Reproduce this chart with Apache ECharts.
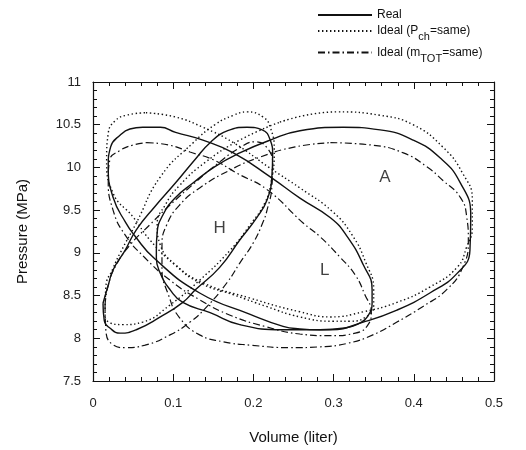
<!DOCTYPE html>
<html><head><meta charset="utf-8">
<script src="https://cdn.jsdelivr.net/npm/echarts@6/dist/echarts.min.js"></script>
<style>html,body{margin:0;padding:0;background:#fff}#c{width:526px;height:450px}</style>
</head><body><div id="c"></div>
<script>
// Values: [volume (liter), pressure (MPa)]
const realA = [[0.079,9.03],[0.080,9.24],[0.087,9.44],[0.102,9.64],[0.125,9.82],[0.152,10.01],[0.183,10.17],[0.221,10.32],[0.258,10.43],[0.312,10.47],[0.358,10.44],[0.399,10.32],[0.433,10.11],[0.458,9.82],[0.471,9.44],[0.470,9.03],[0.454,8.76],[0.420,8.53],[0.379,8.33],[0.337,8.19],[0.296,8.10],[0.237,8.10],[0.183,8.16],[0.146,8.30],[0.112,8.42],[0.096,8.57],[0.084,8.76],[0.079,8.94]];
const realL = [[0.062,10.47],[0.084,10.47],[0.103,10.41],[0.137,10.32],[0.175,10.17],[0.221,9.89],[0.258,9.64],[0.296,9.41],[0.317,9.19],[0.337,8.86],[0.348,8.57],[0.348,8.41],[0.342,8.25],[0.333,8.18],[0.314,8.12],[0.283,8.10],[0.258,8.11],[0.237,8.14],[0.196,8.28],[0.133,8.53],[0.077,8.93],[0.052,9.20],[0.041,9.35],[0.025,9.65],[0.019,10.01],[0.022,10.24],[0.034,10.38],[0.046,10.45]];
const realH = [[0.0125,8.41],[0.019,8.62],[0.025,8.80],[0.040,9.03],[0.054,9.27],[0.077,9.54],[0.103,9.82],[0.127,10.09],[0.146,10.29],[0.168,10.43],[0.192,10.47],[0.211,10.44],[0.221,10.32],[0.224,10.15],[0.223,9.89],[0.217,9.62],[0.204,9.41],[0.183,9.15],[0.158,8.83],[0.128,8.57],[0.112,8.42],[0.084,8.25],[0.054,8.10],[0.034,8.06],[0.021,8.12],[0.014,8.21]];
const pchA = [[0.233,10.53],[0.304,10.65],[0.358,10.61],[0.399,10.50],[0.436,10.24],[0.461,9.93],[0.473,9.62],[0.473,9.30],[0.466,9.07],[0.454,8.83],[0.420,8.60],[0.379,8.42],[0.337,8.31],[0.296,8.25],[0.258,8.31],[0.196,8.47],[0.137,8.65],[0.103,8.86],[0.084,9.09],[0.080,9.33],[0.090,9.56],[0.108,9.79],[0.140,10.06],[0.183,10.32]];
const pchL = [[0.066,10.64],[0.103,10.59],[0.137,10.47],[0.175,10.29],[0.221,9.99],[0.258,9.76],[0.299,9.48],[0.323,9.21],[0.340,8.89],[0.350,8.57],[0.350,8.39],[0.342,8.26],[0.320,8.20],[0.299,8.20],[0.258,8.25],[0.217,8.37],[0.175,8.51],[0.133,8.65],[0.102,8.86],[0.071,9.15],[0.050,9.42],[0.025,9.70],[0.017,10.09],[0.019,10.40],[0.027,10.54],[0.041,10.61]];
const pchH = [[0.015,8.25],[0.016,8.60],[0.025,8.82],[0.034,9.00],[0.054,9.35],[0.084,9.89],[0.125,10.29],[0.152,10.50],[0.175,10.61],[0.192,10.65],[0.212,10.59],[0.221,10.47],[0.226,10.20],[0.222,9.82],[0.214,9.58],[0.196,9.33],[0.171,9.03],[0.133,8.68],[0.096,8.39],[0.062,8.19],[0.037,8.16],[0.021,8.18]];
const mtotA = [[0.296,10.29],[0.349,10.26],[0.387,10.17],[0.416,10.01],[0.436,9.85],[0.458,9.65],[0.466,9.42],[0.468,9.15],[0.461,8.83],[0.441,8.57],[0.411,8.37],[0.379,8.19],[0.349,8.04],[0.317,7.94],[0.283,7.90],[0.246,7.89],[0.196,7.92],[0.162,7.96],[0.133,8.04],[0.108,8.24],[0.094,8.51],[0.086,8.82],[0.086,9.09],[0.092,9.33],[0.108,9.56],[0.133,9.76],[0.171,9.97],[0.208,10.12],[0.252,10.24]];
const mtotL = [[0.067,10.29],[0.096,10.26],[0.121,10.18],[0.150,10.09],[0.180,9.93],[0.217,9.74],[0.262,9.35],[0.283,9.19],[0.308,8.95],[0.327,8.74],[0.339,8.51],[0.347,8.31],[0.343,8.16],[0.327,8.06],[0.296,8.03],[0.258,8.05],[0.214,8.14],[0.171,8.27],[0.133,8.45],[0.096,8.68],[0.065,8.94],[0.040,9.21],[0.025,9.50],[0.019,9.85],[0.021,10.09],[0.034,10.20],[0.049,10.26]];
const mtotH = [[0.015,8.39],[0.019,8.62],[0.029,8.86],[0.046,9.09],[0.071,9.33],[0.096,9.56],[0.127,9.82],[0.156,10.05],[0.183,10.23],[0.202,10.30],[0.217,10.23],[0.224,10.03],[0.223,9.77],[0.217,9.50],[0.212,9.36],[0.200,9.12],[0.183,8.88],[0.167,8.65],[0.142,8.37],[0.121,8.19],[0.096,8.04],[0.065,7.92],[0.040,7.89],[0.024,7.93],[0.016,8.10]];

const regionNames = ['A','H','L'];
const regionV = [0.364,0.158,0.289];
const regionP = [9.89,9.29,8.80];

const seriesNames = ['Real','Ideal (P_ch=same)','Ideal (m_TOT=same)'];
const legendRich = {
  'Real': 'Real',
  'Ideal (P_ch=same)': 'Ideal (P{s|ch}=same)',
  'Ideal (m_TOT=same)': 'Ideal (m{s|TOT}=same)'
};

const FONT = 'Liberation Sans';
const styles = [
  {type:'solid', width:1.4},
  {type:[1.4,2.6], width:1.4},
  {type:[7,3,1.5,3], width:1.2}
];
const groups = [[realA,realH,realL],[pchA,pchH,pchL],[mtotA,mtotH,mtotL]];

const series = [];
groups.forEach((g, i) => {
  g.forEach(d => {
    series.push({
      name: seriesNames[i], type:'line', smooth:0.5, symbol:'none',
      data: d.concat([d[0]]),
      lineStyle: Object.assign({color:'#111'}, styles[i]),
      itemStyle:{color:'#111'}, animation:false, z:2
    });
  });
});
series.push({
  type:'scatter', symbolSize:0, animation:false,
  data: regionNames.map((n,i)=>({value:[regionV[i],regionP[i]], name:n})),
  label:{show:true, formatter:'{b}', position:'inside', color:'#111', fontSize:17, fontFamily:FONT}
});

function axisCommon() {
  return {
    axisLine:{show:true, onZero:false, lineStyle:{color:'#111', width:1.2}},
    axisTick:{show:true, inside:true, length:7, lineStyle:{color:'#111'}},
    minorTick:{show:true, splitNumber:5, length:4, lineStyle:{color:'#111'}},
    splitLine:{show:false}
  };
}

const chart = echarts.init(document.getElementById('c'), null, {renderer:'canvas'});
chart.setOption({
  backgroundColor:'#fff',
  animation:false,
  grid:{left:93, right:32, top:82, bottom:69},
  legend:{
    data: seriesNames, orient:'vertical', left:312, top:4,
    itemWidth:54, itemHeight:12, itemGap:4,
    formatter: n => legendRich[n],
    itemStyle:{color:'rgba(0,0,0,0)', borderColor:'rgba(0,0,0,0)', borderWidth:0},
    textStyle:{fontFamily:FONT, fontSize:12, color:'#111',
      rich:{s:{fontSize:11, fontFamily:FONT, color:'#111', padding:[12,0,0,0]}}}
  },
  xAxis:[
    Object.assign({type:'value', min:0, max:0.5, interval:0.1, position:'bottom',
      name:'Volume (liter)', nameLocation:'middle', nameGap:49,
      nameTextStyle:{fontFamily:FONT, fontSize:15, color:'#111'},
      axisLabel:{fontFamily:FONT, fontSize:13, color:'#222', margin:16}}, axisCommon()),
    Object.assign({type:'value', min:0, max:0.5, interval:0.1, position:'top',
      axisLabel:{show:false}}, axisCommon())
  ],
  yAxis:[
    Object.assign({type:'value', min:7.5, max:11, interval:0.5, position:'left',
      name:'Pressure (MPa)', nameLocation:'middle', nameGap:63,
      nameTextStyle:{fontFamily:FONT, fontSize:15, color:'#111'},
      axisLabel:{fontFamily:FONT, fontSize:13, color:'#222', margin:12}}, axisCommon()),
    Object.assign({type:'value', min:7.5, max:11, interval:0.5, position:'right',
      axisLabel:{show:false}}, axisCommon())
  ],
  series: series
});
</script></body></html>
